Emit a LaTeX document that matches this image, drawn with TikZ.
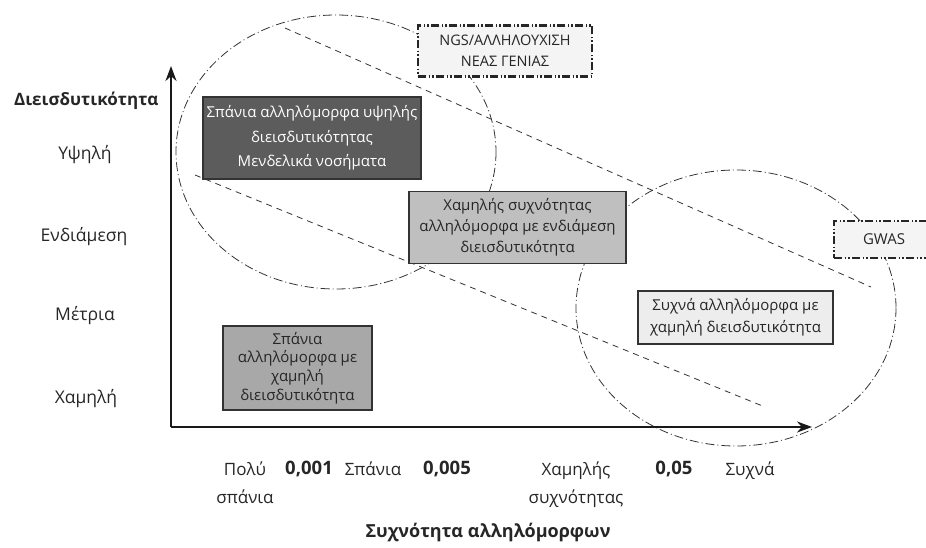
\documentclass[tikz,border=0pt]{standalone}
\usepackage{fontspec}
\setmainfont{Open Sans}
\usepackage{xcolor}
\usepackage{tikz}
\usetikzlibrary{arrows.meta}

\definecolor{darkbox}{gray}{0.36}
\definecolor{midbox}{gray}{0.75}
\definecolor{lowbox}{gray}{0.66}
\definecolor{palebox}{gray}{0.93}
\definecolor{techbox}{gray}{0.955}

\begin{document}
\begin{tikzpicture}[x=1pt,y=-1pt,every node/.style={font=\fontsize{17.5}{20}\selectfont,align=center,text=black!85},axis/.style={line width=2.4pt,black!90,-{Stealth[length=15pt,width=11pt]}},zone/.style={black!80,line width=0.8pt,dash pattern=on 9pt off 3pt on 1pt off 3pt},trend/.style={black!80,line width=0.8pt,dash pattern=on 6pt off 5pt},box/.style={draw=black!80,line width=1.3pt,inner sep=2pt},techbox/.style={draw=black!85,fill=techbox,line width=2.2pt,dash pattern=on 8pt off 2.5pt on 1.5pt off 2pt on 1.5pt off 2.5pt,inner sep=2pt},bold/.style={font=\fontsize{17}{20}\selectfont\bfseries},xlab/.style={anchor=north,font=\fontsize{17}{28}\selectfont},xnum/.style={anchor=north,font=\fontsize{18.5}{28}\selectfont\bfseries}]
\useasboundingbox (0,0) rectangle (926,548);
% zones
\draw[zone] (336,152) ellipse (160 and 137);
\draw[zone] (736,308) ellipse (160 and 138);
% trend lines
\coordinate (t1a) at (285,28);
\coordinate (t1b) at (871,287);
\coordinate (t2a) at (195,175);
\coordinate (t2b) at (765,407);
\draw[trend] (t1a) -- (t1b);
\draw[trend] (t2a) -- (t2b);
% axes
\coordinate (o) at (171,427);
\coordinate (ytip) at (171,66);
\coordinate (xtip) at (812,427);
\draw[axis] (o) -- (ytip);
\draw[axis] (o) -- (xtip);
% boxes
\node[box,fill=darkbox,text=white,minimum width=218pt,minimum height=82pt,font=\fontsize{15}{24.5}\selectfont] (hiPen) at (312,138) {Σπάνια αλληλόμορφα υψηλής\\διεισδυτικότητας\\Μενδελικά νοσήματα};
\node[box,fill=midbox,minimum width=217pt,minimum height=72pt,font=\fontsize{15}{21}\selectfont] (midPen) at (517.5,227.5) {Χαμηλής συχνότητας\\αλληλόμορφα με ενδιάμεση\\διεισδυτικότητα};
\node[box,fill=lowbox,minimum width=149pt,minimum height=84pt,font=\fontsize{15}{18.7}\selectfont] (lowRare) at (297.5,368) {Σπάνια\\αλληλόμορφα με\\χαμηλή\\διεισδυτικότητα};
\node[box,fill=palebox,minimum width=195pt,minimum height=53pt,font=\fontsize{15}{22}\selectfont] (common) at (735.5,317.5) {Συχνά αλληλόμορφα με\\χαμηλή διεισδυτικότητα};
\node[techbox,minimum width=174pt,minimum height=51pt,font=\fontsize{14.5}{21}\selectfont] (ngs) at (505,51) {NGS/ΑΛΛΗΛΟΥΧΙΣΗ\\ΝΕΑΣ ΓΕΝΙΑΣ};
\node[techbox,minimum width=100pt,minimum height=37pt,font=\fontsize{15}{20}\selectfont] (gwas) at (884,239.5) {GWAS};
% y labels
\node[bold,anchor=east] (ytitle) at (162,101) {Διεισδυτικότητα};
\node (yhigh) at (85,155) {Υψηλή};
\node (ymid) at (84,237) {Ενδιάμεση};
\node (ymod) at (85,316) {Μέτρια};
\node (ylow) at (86,399) {Χαμηλή};
% x labels
\node[xlab] (xvrare) at (245,458) {Πολύ\\σπάνια};
\node[xnum] (x001) at (309,458) {0,001};
\node[xlab] (xrare) at (373,458) {Σπάνια};
\node[xnum] (x005) at (447,458) {0,005};
\node[xlab] (xlowf) at (576,458) {Χαμηλής\\συχνότητας};
\node[xnum] (x05) at (674,458) {0,05};
\node[xlab] (xcommon) at (750,458) {Συχνά};
\node[font=\fontsize{18}{20}\selectfont\bfseries] (xtitle) at (488,532) {Συχνότητα αλληλόμορφων};
\end{tikzpicture}
\end{document}
